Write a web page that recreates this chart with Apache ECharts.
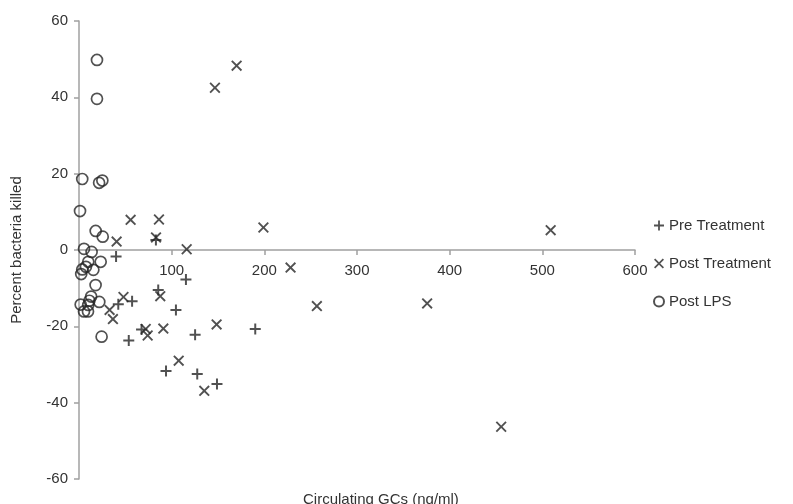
<!DOCTYPE html>
<html>
<head>
<meta charset="utf-8">
<script src="https://cdn.jsdelivr.net/npm/echarts@6/dist/echarts.min.js"></script>
<style>html,body{margin:0;padding:0;background:#fff}#c{width:793px;height:504px}</style>
</head>
<body>
<div id="c"></div>
<script>
const seriesNames = ['Pre Treatment', 'Post Treatment', 'Post LPS'];
const xTicks = [0, 100, 200, 300, 400, 500, 600];
const yTicks = [-60, -40, -20, 0, 20, 40, 60];

const preTreatment = [
  [40, -1.7], [83, 2.6], [115.4, -7.7], [85.5, -10.5], [104.6, -15.7],
  [42.4, -14.2], [57.3, -13.4], [53.7, -23.7], [67.5, -20.8], [125.3, -22.2],
  [190.2, -20.7], [93.9, -31.7], [127.6, -32.5], [148.9, -35.1]
];
const postTreatment = [
  [146.7, 42.5], [170.1, 48.3], [199, 5.9], [509, 5.2], [228.3, -4.6],
  [256.7, -14.7], [375.7, -14], [455.6, -46.3], [55.7, 7.9], [86.3, 8.0],
  [40.6, 2.2], [83.1, 3.3], [116.2, 0.2], [48, -12.3], [87.7, -12.1],
  [33, -15.7], [36.6, -18.1], [72, -20.7], [74.1, -22.4], [91, -20.6],
  [148.5, -19.5], [107.6, -29], [135.2, -36.9]
];
const postLPS = [
  [19.4, 49.8], [19.4, 39.6], [3.5, 18.6], [21.7, 17.6], [25.2, 18.2],
  [1.1, 10.2], [18, 5.0], [25.6, 3.5], [5.4, 0.3], [13.6, -0.5],
  [10, -3.1], [23.4, -3.1], [7.5, -4.4], [3.5, -5.1], [15.5, -5.2],
  [2.4, -6.3], [17.9, -9.2], [13.1, -12.2], [11.2, -13.3], [21.9, -13.6],
  [1.8, -14.3], [10, -14.4], [5.4, -16.1], [9.7, -16.1], [24.4, -22.7]
];

const plusPath = 'path://M4.1,0H5.9V4.1H10V5.9H5.9V10H4.1V5.9H0V4.1H4.1Z';
const crossPath = 'path://M1.2,0L5,3.8L8.8,0L10,1.2L6.2,5L10,8.8L8.8,10L5,6.2L1.2,10L0,8.8L3.8,5L0,1.2Z';
const ink = '#262626';
const axisGray = '#a0a0a0';
const font = 'Liberation Sans, Arial, sans-serif';

const gridTop = 21, gridBottom = 25, chartH = 504;
const plotH = chartH - gridTop - gridBottom;
// place the x axis at y = 0 (halfway between -60 and 60)
const xAxisOffset = -plotH * (0 - yTicks[0]) / (yTicks[yTicks.length - 1] - yTicks[0]);

const chart = echarts.init(document.getElementById('c'));
chart.setOption({
  animation: false,
  backgroundColor: '#fff',
  textStyle: { fontFamily: font },
  title: {
    text: 'Circulating GCs (ng/ml)',
    left: 298, top: 487,
    textStyle: { fontFamily: font, fontSize: 15, fontWeight: 'normal', color: '#333' }
  },
  grid: { left: 79, right: 158, top: gridTop, bottom: gridBottom, containLabel: false },
  legend: {
    orient: 'vertical', left: 648, top: 213, itemGap: 23,
    itemWidth: 10, itemHeight: 10,
    textStyle: { fontFamily: font, fontSize: 15, color: '#333' },
    data: [
      { name: seriesNames[0], icon: plusPath },
      { name: seriesNames[1], icon: crossPath },
      { name: seriesNames[2], icon: 'circle' }
    ]
  },
  xAxis: {
    type: 'value', min: xTicks[0], max: xTicks[xTicks.length - 1], interval: 100,
    position: 'bottom', offset: xAxisOffset,
    axisLine: { onZero: false, lineStyle: { color: axisGray, width: 1.5 } },
    axisTick: { show: true, inside: false, length: 5, lineStyle: { color: axisGray, width: 1.5 } },
    axisLabel: { showMinLabel: false, margin: 13, fontSize: 15, color: '#333', fontFamily: font },
    splitLine: { show: false }
  },
  yAxis: {
    type: 'value', min: yTicks[0], max: yTicks[yTicks.length - 1], interval: 20,
    name: 'Percent bacteria killed', nameLocation: 'middle', nameGap: 55,
    nameTextStyle: { fontSize: 15, color: '#333', fontFamily: font },
    axisLine: { show: true, onZero: false, lineStyle: { color: axisGray, width: 1.5 } },
    axisTick: { show: true, length: 5, lineStyle: { color: axisGray, width: 1.5 } },
    axisLabel: { margin: 11, fontSize: 15, color: '#333', fontFamily: font },
    splitLine: { show: false }
  },
  series: [
    {
      name: seriesNames[0], type: 'scatter', data: preTreatment,
      symbol: plusPath, symbolSize: 11,
      itemStyle: { color: ink }
    },
    {
      name: seriesNames[1], type: 'scatter', data: postTreatment,
      symbol: crossPath, symbolSize: 11,
      itemStyle: { color: ink }
    },
    {
      name: seriesNames[2], type: 'scatter', data: postLPS,
      symbol: 'circle', symbolSize: 11,
      itemStyle: { color: 'rgba(0,0,0,0)', borderColor: ink, borderWidth: 1.7 }
    }
  ]
});
</script>
</body>
</html>
